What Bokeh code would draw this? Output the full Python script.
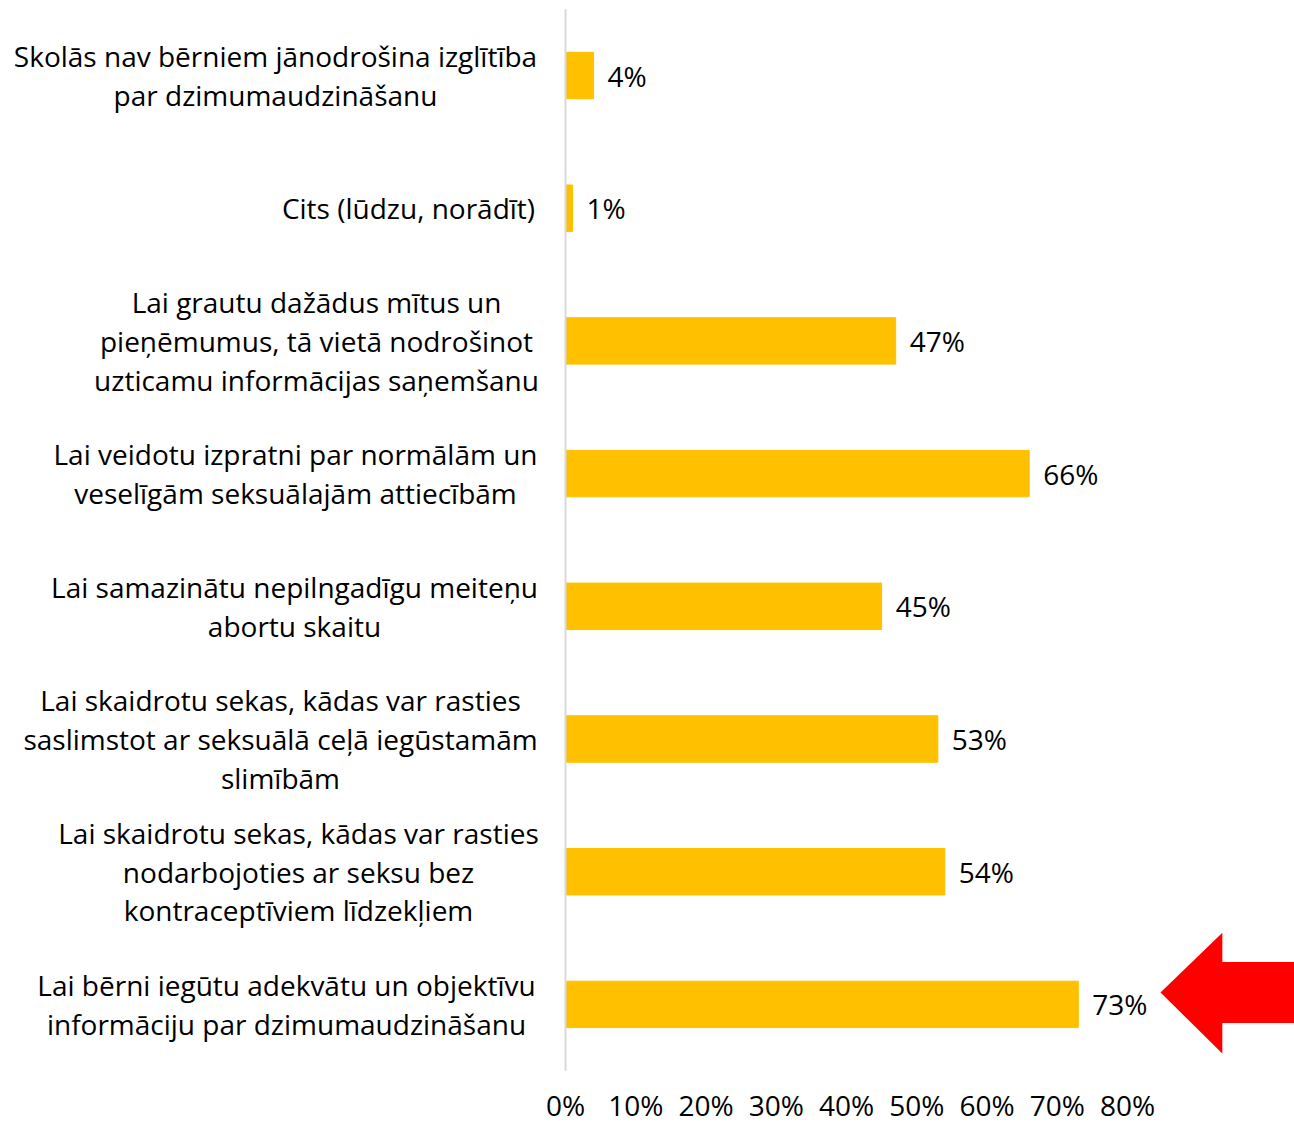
from bokeh.plotting import figure
from bokeh.models import Range1d, ColumnDataSource
from bokeh.core.properties import value
from bokeh.embed import file_html
from bokeh.resources import INLINE

categories = [
    "Skolās nav bērniem jānodrošina izglītība\npar dzimumaudzināšanu",
    "Cits (lūdzu, norādīt)",
    "Lai grautu dažādus mītus un\npieņēmumus, tā vietā nodrošinot\nuzticamu informācijas saņemšanu",
    "Lai veidotu izpratni par normālām un\nveselīgām seksuālajām attiecībām",
    "Lai samazinātu nepilngadīgu meiteņu\nabortu skaitu",
    "Lai skaidrotu sekas, kādas var rasties\nsaslimstot ar seksuālā ceļā iegūstamām\nslimībām",
    "Lai skaidrotu sekas, kādas var rasties\nnodarbojoties ar seksu bez\nkontraceptīviem līdzekļiem",
    "Lai bērni iegūtu adekvātu un objektīvu\ninformāciju par dzimumaudzināšanu",
]
values = [4, 1, 47, 66, 45, 53, 54, 73]
tick_values = [0, 10, 20, 30, 40, 50, 60, 70, 80]
tick_labels = ["0%", "10%", "20%", "30%", "40%", "50%", "60%", "70%", "80%"]
highlight_index = 7

FONT = "Open Sans"
FS = 28
W, H = 1294, 1124
PX_PER_UNIT = 7.025          # pixels per percent
ZERO_PX = 565                # frame x of 0%
ROW_PX = 132.7
x_start = -ZERO_PX / PX_PER_UNIT
x_end = (W - ZERO_PX) / PX_PER_UNIT
y_top = -75 / ROW_PX
y_bottom = y_top + H / ROW_PX
n = len(values)

p = figure(width=W, height=H, output_backend="svg", toolbar_location=None,
           x_range=Range1d(x_start, x_end), y_range=Range1d(y_bottom, y_top),
           min_border_left=0, min_border_right=0, min_border_top=0, min_border_bottom=0,
           outline_line_color=None)
p.grid.visible = False
p.axis.visible = False

ys = list(range(n))
src = ColumnDataSource(dict(y=ys, v=values, cat=categories,
                            lab=[f"{v}%" for v in values],
                            lx=[v + 14 / PX_PER_UNIT for v in values]))

p.hbar(y="y", left=0, right="v", height=0.35, color="#FFC000", source=src)
p.segment(x0=[0], x1=[0], y0=[-0.5], y1=[n - 0.5], line_color="#D9D9D9", line_width=2)

p.text(x="lx", y="y", text="lab", source=src, text_font=value(FONT), text_font_size=f"{FS}px",
       text_baseline="middle", text_align="left", text_color="#000000")

# x tick labels below the plot area
tick_y = (n - 1) + 101 / ROW_PX
p.text(x=tick_values, y=[tick_y] * len(tick_values), text=tick_labels,
       text_font=value(FONT), text_font_size=f"{FS}px",
       text_baseline="middle", text_align="center", text_color="#000000")

# category labels, each line centred, block right-aligned near the axis
center_px = [275, 408, 316, 295, 294, 280, 298, 286]
cx = [(c - ZERO_PX) / PX_PER_UNIT for c in center_px]
p.text(x=cx, y=ys, text=categories, text_font=value(FONT), text_font_size=f"{FS}px",
       text_baseline="middle", text_align="center", text_color="#000000",
       text_line_height=1.02)

# red arrow pointing at the highlighted bar
hy = highlight_index
tip = values[highlight_index] + 11.7
base = tip + 8.8
ax = [tip, base, base, x_end + 5, x_end + 5, base, base]
ay = [hy - 0.09, hy - 0.54, hy - 0.32, hy - 0.32, hy + 0.14, hy + 0.14, hy + 0.37]
p.patch(ax, ay, color="#FF0000", line_width=0)

open("out.html", "w").write(file_html(p, INLINE))
